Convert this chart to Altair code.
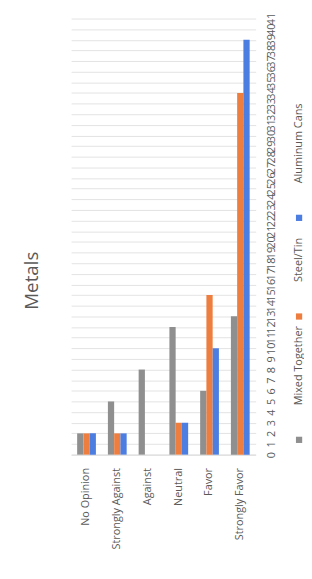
import altair as alt
import pandas as pd

# ---- data ----
categories = ["No Opinion", "Strongly Against", "Against", "Neutral", "Favor", "Strongly Favor"]
series = ["Mixed Together", "Steel/Tin", "Aluminum Cans"]
mixed_together = [2, 5, 8, 12, 6, 13]
steel_tin = [2, 2, 0, 3, 15, 34]
aluminum_cans = [2, 2, 0, 3, 10, 39]
value_ticks = list(range(0, 42))
colors = ["#8F8F8F", "#EE7E3F", "#4C7DE0"]

rows = []
for s, vals in zip(series, [mixed_together, steel_tin, aluminum_cans]):
    for c, v in zip(categories, vals):
        rows.append({"category": c, "series": s, "value": v})
df = pd.DataFrame(rows)

FONT = "Open Sans"
TXT = "#595959"
PLOT_W = 187
PLOT_H = 442

color_scale = alt.Scale(domain=series, range=colors)

bars = alt.Chart(df).mark_bar().encode(
    x=alt.X("category:N", sort=categories,
            scale=alt.Scale(paddingInner=0.39, paddingOuter=0.195),
            axis=alt.Axis(title=None, labelAngle=-90, labelPadding=13, labelFontSize=11,
                          labelFont=FONT, labelColor=TXT, ticks=False,
                          domainColor="#d9d9d9", grid=False)),
    xOffset=alt.XOffset("series:N", sort=series, scale=alt.Scale(paddingInner=0, paddingOuter=0)),
    y=alt.Y("value:Q", scale=alt.Scale(domain=[0, 41], nice=False),
            axis=alt.Axis(title=None, orient="right", values=value_ticks, labelAngle=-90,
                          labelAlign="center", labelBaseline="top", labelPadding=10,
                          labelOverlap=False, labelFontSize=11, labelFont=FONT, labelColor=TXT,
                          ticks=False, domain=False, gridColor="#e3e3e3", gridWidth=1,
                          labelFlush=False)),
    color=alt.Color("series:N", scale=color_scale, legend=None),
).properties(
    width=PLOT_W, height=PLOT_H,
    title=alt.TitleParams("Metals", orient="left", anchor="middle", frame="bounds",
                          fontSize=19, font=FONT, fontWeight="normal", color=TXT, offset=22,
                          dy=-8),
)

# ---- rotated legend (entries laid out one after another from label lengths) ----
leg_rows = []
cur = 15.0
for s in series:
    leg_rows.append({"series": s, "sym": cur, "txt": cur + 35})
    cur += 35 + len(s) * 5.0 + 20
leg_df = pd.DataFrame(leg_rows)

leg_y_scale = alt.Scale(domain=[0, PLOT_H], nice=False, zero=False)
leg_sym = alt.Chart(leg_df).mark_square(size=40, opacity=1).encode(
    y=alt.Y("sym:Q", scale=leg_y_scale, axis=None),
    color=alt.Color("series:N", scale=color_scale, legend=None),
)
leg_txt = alt.Chart(leg_df).mark_text(angle=270, align="left", baseline="middle",
                                      fontSize=11, font=FONT, color=TXT).encode(
    y=alt.Y("txt:Q", scale=leg_y_scale, axis=None),
    text="series:N",
)
legend = alt.layer(leg_sym, leg_txt).properties(width=10, height=PLOT_H)

chart = alt.hconcat(bars, legend, spacing=15).properties(
    padding={"left": 15, "top": 0, "right": 0, "bottom": 0}
).configure_view(strokeWidth=0, stroke="transparent", fill="white")

chart.save("out.html", embed_options={"renderer": "svg", "actions": False})
